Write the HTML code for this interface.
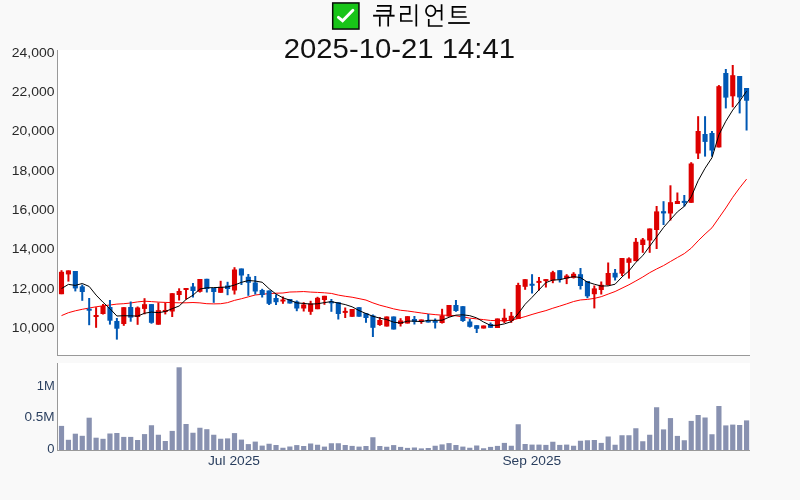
<!DOCTYPE html>
<html><head><meta charset="utf-8"><style>
html,body{margin:0;padding:0;background:#f9f9f9;}
svg{display:block;will-change:transform;font-family:"Liberation Sans",sans-serif;}
.yt{fill:#282828;}.tt{fill:#111;}
.vt{fill:#2a3f5f;}
.xt{fill:#2a3f5f;}
</style></head><body>
<svg width="800" height="500" viewBox="0 0 800 500">
<rect x="0" y="0" width="800" height="500" fill="#f9f9f9"/>
<rect x="58" y="50" width="692" height="305" fill="#fff"/>
<rect x="58" y="363" width="692" height="87" fill="#fff"/>
<defs><clipPath id="cp"><rect x="58" y="50" width="692" height="305"/></clipPath></defs>
<g clip-path="url(#cp)">
<path d="M61.50,315.60 L68.42,312.70 L75.34,310.80 L82.26,309.30 L89.18,308.00 L96.10,306.80 L103.02,305.80 L109.94,305.00 L116.86,304.10 L123.78,303.70 L130.70,303.00 L137.62,301.90 L144.54,301.20 L151.46,301.60 L158.38,302.10 L165.30,302.40 L172.22,302.60 L179.14,302.80 L186.06,302.80 L192.98,302.52 L199.90,302.88 L206.82,303.71 L213.74,303.89 L220.66,303.73 L227.58,302.64 L234.50,300.37 L241.42,298.74 L248.34,296.85 L255.26,294.99 L262.18,294.28 L269.10,293.59 L276.02,293.22 L282.94,292.99 L289.86,292.02 L296.78,291.84 L303.70,291.56 L310.62,292.08 L317.54,292.42 L324.46,292.81 L331.38,293.43 L338.30,295.08 L345.22,296.27 L352.14,297.22 L359.06,298.62 L365.98,300.07 L372.90,302.88 L379.82,305.21 L386.74,306.99 L393.66,308.89 L400.58,310.27 L407.50,310.99 L414.42,311.97 L421.34,312.97 L428.26,313.92 L435.18,314.63 L442.10,315.18 L449.02,315.25 L455.94,315.81 L462.86,316.98 L469.78,318.15 L476.70,318.89 L483.62,319.62 L490.54,320.46 L497.46,320.65 L504.38,320.74 L511.30,320.24 L518.22,318.49 L525.14,316.62 L532.06,314.44 L538.98,312.45 L545.90,310.60 L552.82,308.22 L559.74,306.12 L566.66,303.88 L573.58,301.53 L580.50,299.95 L587.42,299.42 L594.34,298.39 L601.26,296.68 L608.18,294.09 L615.10,291.52 L622.02,288.15 L628.94,284.78 L635.86,280.94 L642.78,277.03 L649.70,272.66 L656.62,268.98 L663.54,265.59 L670.46,261.51 L677.38,257.51 L684.30,253.60 L691.22,248.17 L698.14,240.84 L705.06,234.06 L711.98,227.79 L718.90,217.90 L725.82,207.97 L732.74,197.31 L739.66,187.84 L746.58,179.12" fill="none" stroke="#ff0000" stroke-width="1"/>
<rect x="60.50" y="270.20" width="2.0" height="24.00" fill="#dd0000"/><rect x="58.95" y="271.80" width="5.1" height="22.40" fill="#dd0000"/><rect x="67.42" y="270.40" width="2.0" height="11.20" fill="#dd0000"/><rect x="65.87" y="270.40" width="5.1" height="4.00" fill="#dd0000"/><rect x="74.34" y="271.00" width="2.0" height="20.40" fill="#0058b4"/><rect x="72.79" y="271.00" width="5.1" height="17.40" fill="#0058b4"/><rect x="81.26" y="284.60" width="2.0" height="16.20" fill="#0058b4"/><rect x="79.71" y="286.40" width="5.1" height="5.60" fill="#0058b4"/><rect x="88.18" y="298.00" width="2.0" height="27.20" fill="#0058b4"/><rect x="86.63" y="308.70" width="5.1" height="2.00" fill="#0058b4"/><rect x="95.10" y="307.20" width="2.0" height="20.60" fill="#dd0000"/><rect x="93.55" y="315.00" width="5.1" height="2.00" fill="#dd0000"/><rect x="102.02" y="304.00" width="2.0" height="10.50" fill="#dd0000"/><rect x="100.47" y="306.00" width="5.1" height="8.00" fill="#dd0000"/><rect x="108.94" y="300.00" width="2.0" height="24.60" fill="#0058b4"/><rect x="107.39" y="307.00" width="5.1" height="13.70" fill="#0058b4"/><rect x="115.86" y="318.00" width="2.0" height="21.60" fill="#0058b4"/><rect x="114.31" y="321.00" width="5.1" height="7.70" fill="#0058b4"/><rect x="122.78" y="307.20" width="2.0" height="18.60" fill="#dd0000"/><rect x="121.23" y="307.20" width="5.1" height="16.80" fill="#dd0000"/><rect x="129.70" y="301.50" width="2.0" height="20.20" fill="#0058b4"/><rect x="128.15" y="307.00" width="5.1" height="10.60" fill="#0058b4"/><rect x="136.62" y="306.50" width="2.0" height="18.30" fill="#dd0000"/><rect x="135.07" y="307.50" width="5.1" height="9.50" fill="#dd0000"/><rect x="143.54" y="298.20" width="2.0" height="16.10" fill="#dd0000"/><rect x="141.99" y="304.20" width="5.1" height="4.70" fill="#dd0000"/><rect x="150.46" y="304.10" width="2.0" height="19.60" fill="#0058b4"/><rect x="148.91" y="304.10" width="5.1" height="18.70" fill="#0058b4"/><rect x="157.38" y="302.50" width="2.0" height="22.20" fill="#dd0000"/><rect x="155.83" y="310.20" width="5.1" height="14.50" fill="#dd0000"/><rect x="164.30" y="302.60" width="2.0" height="11.80" fill="#dd0000"/><rect x="162.75" y="309.95" width="5.1" height="2.00" fill="#dd0000"/><rect x="171.22" y="293.20" width="2.0" height="23.80" fill="#dd0000"/><rect x="169.67" y="293.20" width="5.1" height="18.30" fill="#dd0000"/><rect x="178.14" y="288.30" width="2.0" height="12.20" fill="#dd0000"/><rect x="176.59" y="291.00" width="5.1" height="4.00" fill="#dd0000"/><rect x="185.06" y="288.00" width="2.0" height="11.50" fill="#dd0000"/><rect x="183.51" y="288.00" width="5.1" height="2.00" fill="#dd0000"/><rect x="191.98" y="283.00" width="2.0" height="14.50" fill="#0058b4"/><rect x="190.43" y="286.50" width="5.1" height="4.50" fill="#0058b4"/><rect x="198.90" y="279.00" width="2.0" height="13.50" fill="#dd0000"/><rect x="197.35" y="279.00" width="5.1" height="12.80" fill="#dd0000"/><rect x="205.82" y="278.80" width="2.0" height="13.70" fill="#0058b4"/><rect x="204.27" y="278.80" width="5.1" height="10.20" fill="#0058b4"/><rect x="212.74" y="288.00" width="2.0" height="14.80" fill="#0058b4"/><rect x="211.19" y="288.00" width="5.1" height="4.00" fill="#0058b4"/><rect x="219.66" y="280.80" width="2.0" height="12.00" fill="#dd0000"/><rect x="218.11" y="286.80" width="5.1" height="6.00" fill="#dd0000"/><rect x="226.58" y="281.80" width="2.0" height="13.40" fill="#0058b4"/><rect x="225.03" y="285.50" width="5.1" height="3.50" fill="#0058b4"/><rect x="233.50" y="267.20" width="2.0" height="27.30" fill="#dd0000"/><rect x="231.95" y="269.50" width="5.1" height="21.00" fill="#dd0000"/><rect x="240.42" y="268.50" width="2.0" height="16.50" fill="#0058b4"/><rect x="238.87" y="268.50" width="5.1" height="7.00" fill="#0058b4"/><rect x="247.34" y="274.00" width="2.0" height="21.80" fill="#0058b4"/><rect x="245.79" y="276.80" width="5.1" height="6.00" fill="#0058b4"/><rect x="254.26" y="276.00" width="2.0" height="18.50" fill="#0058b4"/><rect x="252.71" y="282.50" width="5.1" height="9.00" fill="#0058b4"/><rect x="261.18" y="288.80" width="2.0" height="8.70" fill="#0058b4"/><rect x="259.63" y="290.00" width="5.1" height="5.00" fill="#0058b4"/><rect x="268.10" y="290.50" width="2.0" height="14.50" fill="#0058b4"/><rect x="266.55" y="290.50" width="5.1" height="13.30" fill="#0058b4"/><rect x="275.02" y="294.50" width="2.0" height="10.50" fill="#0058b4"/><rect x="273.47" y="298.00" width="5.1" height="4.20" fill="#0058b4"/><rect x="281.94" y="296.50" width="2.0" height="7.30" fill="#dd0000"/><rect x="280.39" y="299.50" width="5.1" height="2.00" fill="#dd0000"/><rect x="288.86" y="299.00" width="2.0" height="4.50" fill="#0058b4"/><rect x="287.31" y="299.00" width="5.1" height="4.50" fill="#0058b4"/><rect x="295.78" y="300.50" width="2.0" height="10.70" fill="#0058b4"/><rect x="294.23" y="301.50" width="5.1" height="7.00" fill="#0058b4"/><rect x="302.70" y="302.20" width="2.0" height="9.30" fill="#dd0000"/><rect x="301.15" y="304.50" width="5.1" height="4.00" fill="#dd0000"/><rect x="309.62" y="300.80" width="2.0" height="14.00" fill="#dd0000"/><rect x="308.07" y="303.50" width="5.1" height="8.30" fill="#dd0000"/><rect x="316.54" y="296.80" width="2.0" height="12.40" fill="#dd0000"/><rect x="314.99" y="297.80" width="5.1" height="11.40" fill="#dd0000"/><rect x="323.46" y="295.80" width="2.0" height="9.00" fill="#dd0000"/><rect x="321.91" y="295.80" width="5.1" height="4.20" fill="#dd0000"/><rect x="330.38" y="299.00" width="2.0" height="12.80" fill="#0058b4"/><rect x="328.83" y="301.35" width="5.1" height="2.00" fill="#0058b4"/><rect x="337.30" y="302.20" width="2.0" height="17.30" fill="#0058b4"/><rect x="335.75" y="302.20" width="5.1" height="11.80" fill="#0058b4"/><rect x="344.22" y="307.50" width="2.0" height="10.50" fill="#dd0000"/><rect x="342.67" y="310.90" width="5.1" height="2.00" fill="#dd0000"/><rect x="351.14" y="309.00" width="2.0" height="7.80" fill="#dd0000"/><rect x="349.59" y="309.00" width="5.1" height="7.80" fill="#dd0000"/><rect x="358.06" y="307.20" width="2.0" height="9.50" fill="#0058b4"/><rect x="356.51" y="307.20" width="5.1" height="9.50" fill="#0058b4"/><rect x="364.98" y="313.20" width="2.0" height="9.60" fill="#0058b4"/><rect x="363.43" y="313.20" width="5.1" height="4.80" fill="#0058b4"/><rect x="371.90" y="314.50" width="2.0" height="22.50" fill="#0058b4"/><rect x="370.35" y="315.50" width="5.1" height="12.30" fill="#0058b4"/><rect x="378.82" y="317.00" width="2.0" height="8.80" fill="#dd0000"/><rect x="377.27" y="320.00" width="5.1" height="5.00" fill="#dd0000"/><rect x="385.74" y="316.50" width="2.0" height="10.00" fill="#dd0000"/><rect x="384.19" y="316.50" width="5.1" height="10.00" fill="#dd0000"/><rect x="392.66" y="316.50" width="2.0" height="13.00" fill="#0058b4"/><rect x="391.11" y="316.50" width="5.1" height="13.00" fill="#0058b4"/><rect x="399.58" y="318.20" width="2.0" height="8.30" fill="#dd0000"/><rect x="398.03" y="320.50" width="5.1" height="3.50" fill="#dd0000"/><rect x="406.50" y="316.20" width="2.0" height="7.30" fill="#dd0000"/><rect x="404.95" y="316.20" width="5.1" height="7.30" fill="#dd0000"/><rect x="413.42" y="316.00" width="2.0" height="8.50" fill="#0058b4"/><rect x="411.87" y="319.00" width="5.1" height="2.80" fill="#0058b4"/><rect x="420.34" y="319.50" width="2.0" height="4.30" fill="#dd0000"/><rect x="418.79" y="319.50" width="5.1" height="2.30" fill="#dd0000"/><rect x="427.26" y="314.00" width="2.0" height="8.50" fill="#0058b4"/><rect x="425.71" y="320.50" width="5.1" height="2.00" fill="#0058b4"/><rect x="434.18" y="318.50" width="2.0" height="10.00" fill="#0058b4"/><rect x="432.63" y="320.75" width="5.1" height="2.00" fill="#0058b4"/><rect x="441.10" y="308.80" width="2.0" height="14.70" fill="#dd0000"/><rect x="439.55" y="315.50" width="5.1" height="7.50" fill="#dd0000"/><rect x="448.02" y="305.00" width="2.0" height="11.50" fill="#dd0000"/><rect x="446.47" y="305.00" width="5.1" height="11.50" fill="#dd0000"/><rect x="454.94" y="300.00" width="2.0" height="11.80" fill="#0058b4"/><rect x="453.39" y="305.00" width="5.1" height="6.00" fill="#0058b4"/><rect x="461.86" y="306.20" width="2.0" height="15.60" fill="#0058b4"/><rect x="460.31" y="306.20" width="5.1" height="14.80" fill="#0058b4"/><rect x="468.78" y="319.00" width="2.0" height="8.50" fill="#0058b4"/><rect x="467.23" y="321.50" width="5.1" height="5.30" fill="#0058b4"/><rect x="475.70" y="325.20" width="2.0" height="7.80" fill="#0058b4"/><rect x="474.15" y="325.20" width="5.1" height="3.60" fill="#0058b4"/><rect x="482.62" y="325.50" width="2.0" height="3.00" fill="#dd0000"/><rect x="481.07" y="325.50" width="5.1" height="3.00" fill="#dd0000"/><rect x="489.54" y="322.50" width="2.0" height="5.30" fill="#0058b4"/><rect x="487.99" y="324.00" width="5.1" height="3.80" fill="#0058b4"/><rect x="496.46" y="318.50" width="2.0" height="9.50" fill="#dd0000"/><rect x="494.91" y="318.50" width="5.1" height="9.50" fill="#dd0000"/><rect x="503.38" y="308.80" width="2.0" height="14.20" fill="#dd0000"/><rect x="501.83" y="317.80" width="5.1" height="3.70" fill="#dd0000"/><rect x="510.30" y="312.00" width="2.0" height="10.80" fill="#dd0000"/><rect x="508.75" y="315.80" width="5.1" height="5.20" fill="#dd0000"/><rect x="517.22" y="282.80" width="2.0" height="36.20" fill="#dd0000"/><rect x="515.67" y="285.00" width="5.1" height="34.00" fill="#dd0000"/><rect x="524.14" y="279.20" width="2.0" height="10.60" fill="#dd0000"/><rect x="522.59" y="279.20" width="5.1" height="7.60" fill="#dd0000"/><rect x="531.06" y="274.20" width="2.0" height="19.30" fill="#0058b4"/><rect x="529.51" y="283.75" width="5.1" height="2.00" fill="#0058b4"/><rect x="537.98" y="277.00" width="2.0" height="13.50" fill="#dd0000"/><rect x="536.43" y="280.90" width="5.1" height="2.00" fill="#dd0000"/><rect x="544.90" y="279.20" width="2.0" height="8.30" fill="#dd0000"/><rect x="543.35" y="279.10" width="5.1" height="2.00" fill="#dd0000"/><rect x="551.82" y="270.80" width="2.0" height="12.40" fill="#dd0000"/><rect x="550.27" y="272.20" width="5.1" height="8.30" fill="#dd0000"/><rect x="558.74" y="270.20" width="2.0" height="12.30" fill="#0058b4"/><rect x="557.19" y="270.20" width="5.1" height="9.30" fill="#0058b4"/><rect x="565.66" y="274.20" width="2.0" height="9.90" fill="#dd0000"/><rect x="564.11" y="275.60" width="5.1" height="2.90" fill="#dd0000"/><rect x="572.58" y="272.20" width="2.0" height="6.30" fill="#dd0000"/><rect x="571.03" y="273.80" width="5.1" height="4.00" fill="#dd0000"/><rect x="579.50" y="268.00" width="2.0" height="21.50" fill="#0058b4"/><rect x="577.95" y="274.20" width="5.1" height="11.80" fill="#0058b4"/><rect x="586.42" y="281.00" width="2.0" height="17.20" fill="#0058b4"/><rect x="584.87" y="281.00" width="5.1" height="15.30" fill="#0058b4"/><rect x="593.34" y="285.50" width="2.0" height="22.90" fill="#dd0000"/><rect x="591.79" y="288.40" width="5.1" height="5.80" fill="#dd0000"/><rect x="600.26" y="281.50" width="2.0" height="13.00" fill="#dd0000"/><rect x="598.71" y="284.80" width="5.1" height="5.20" fill="#dd0000"/><rect x="607.18" y="262.50" width="2.0" height="23.00" fill="#dd0000"/><rect x="605.63" y="273.00" width="5.1" height="12.00" fill="#dd0000"/><rect x="614.10" y="269.00" width="2.0" height="11.50" fill="#0058b4"/><rect x="612.55" y="272.80" width="5.1" height="4.70" fill="#0058b4"/><rect x="621.02" y="258.00" width="2.0" height="18.00" fill="#dd0000"/><rect x="619.47" y="258.00" width="5.1" height="15.60" fill="#dd0000"/><rect x="627.94" y="257.40" width="2.0" height="21.20" fill="#dd0000"/><rect x="626.39" y="258.40" width="5.1" height="4.40" fill="#dd0000"/><rect x="634.86" y="238.00" width="2.0" height="23.20" fill="#dd0000"/><rect x="633.31" y="241.80" width="5.1" height="19.30" fill="#dd0000"/><rect x="641.78" y="238.00" width="2.0" height="14.80" fill="#dd0000"/><rect x="640.23" y="239.50" width="5.1" height="5.50" fill="#dd0000"/><rect x="648.70" y="228.50" width="2.0" height="24.30" fill="#dd0000"/><rect x="647.15" y="228.50" width="5.1" height="12.00" fill="#dd0000"/><rect x="655.62" y="206.00" width="2.0" height="43.00" fill="#dd0000"/><rect x="654.07" y="211.40" width="5.1" height="18.60" fill="#dd0000"/><rect x="662.54" y="201.20" width="2.0" height="23.80" fill="#0058b4"/><rect x="660.99" y="211.20" width="5.1" height="2.20" fill="#0058b4"/><rect x="669.46" y="185.30" width="2.0" height="35.20" fill="#dd0000"/><rect x="667.91" y="202.20" width="5.1" height="11.30" fill="#dd0000"/><rect x="676.38" y="192.50" width="2.0" height="11.50" fill="#dd0000"/><rect x="674.83" y="201.00" width="5.1" height="3.00" fill="#dd0000"/><rect x="683.30" y="195.00" width="2.0" height="11.50" fill="#0058b4"/><rect x="681.75" y="200.90" width="5.1" height="2.00" fill="#0058b4"/><rect x="690.22" y="162.20" width="2.0" height="40.60" fill="#dd0000"/><rect x="688.67" y="163.50" width="5.1" height="39.30" fill="#dd0000"/><rect x="697.14" y="116.20" width="2.0" height="42.80" fill="#dd0000"/><rect x="695.59" y="131.00" width="5.1" height="22.50" fill="#dd0000"/><rect x="704.06" y="116.20" width="2.0" height="40.40" fill="#0058b4"/><rect x="702.51" y="134.00" width="5.1" height="7.90" fill="#0058b4"/><rect x="710.98" y="131.00" width="2.0" height="25.60" fill="#0058b4"/><rect x="709.43" y="133.00" width="5.1" height="17.50" fill="#0058b4"/><rect x="717.90" y="85.10" width="2.0" height="62.30" fill="#dd0000"/><rect x="716.35" y="86.20" width="5.1" height="61.20" fill="#dd0000"/><rect x="724.82" y="69.00" width="2.0" height="39.40" fill="#0058b4"/><rect x="723.27" y="73.00" width="5.1" height="24.60" fill="#0058b4"/><rect x="731.74" y="65.00" width="2.0" height="42.30" fill="#dd0000"/><rect x="730.19" y="75.20" width="5.1" height="21.10" fill="#dd0000"/><rect x="738.66" y="76.00" width="2.0" height="37.40" fill="#0058b4"/><rect x="737.11" y="76.00" width="5.1" height="21.40" fill="#0058b4"/><rect x="745.58" y="88.00" width="2.0" height="42.50" fill="#0058b4"/><rect x="744.03" y="88.00" width="5.1" height="12.70" fill="#0058b4"/>
<path d="M61.50,288.60 L68.42,284.40 L75.34,285.40 L82.26,283.50 L89.18,286.46 L96.10,295.10 L103.02,302.22 L109.94,308.68 L116.86,316.02 L123.78,315.72 L130.70,315.84 L137.62,316.14 L144.54,313.24 L151.46,312.06 L158.38,312.66 L165.30,311.53 L172.22,308.67 L179.14,306.03 L186.06,299.47 L192.98,295.23 L199.90,289.04 L206.82,287.80 L213.74,287.60 L220.66,287.36 L227.58,286.96 L234.50,285.06 L241.42,282.36 L248.34,280.52 L255.26,281.06 L262.18,282.26 L269.10,288.72 L276.02,294.06 L282.94,297.80 L289.86,300.20 L296.78,302.90 L303.70,303.44 L310.62,304.10 L317.54,303.76 L324.46,302.62 L331.38,301.59 L338.30,303.09 L345.22,304.57 L352.14,306.81 L359.06,310.59 L365.98,313.52 L372.90,316.28 L379.82,318.10 L386.74,319.60 L393.66,322.16 L400.58,323.06 L407.50,321.14 L414.42,321.10 L421.34,321.70 L428.26,320.30 L435.18,320.35 L442.10,320.21 L449.02,317.25 L455.94,315.15 L462.86,314.85 L469.78,315.66 L476.70,317.92 L483.62,322.02 L490.54,325.38 L497.46,325.28 L504.38,323.88 L511.30,321.68 L518.22,313.58 L525.14,304.26 L532.06,297.31 L538.98,289.93 L545.90,282.59 L552.82,280.03 L559.74,279.69 L566.66,278.06 L573.58,276.64 L580.50,277.62 L587.42,282.04 L594.34,284.22 L601.26,286.06 L608.18,285.90 L615.10,284.20 L622.02,276.94 L628.94,270.94 L635.86,262.34 L642.78,255.64 L649.70,246.24 L656.62,236.92 L663.54,227.50 L670.46,219.58 L677.38,211.88 L684.30,206.36 L691.22,196.78 L698.14,180.72 L705.06,168.26 L711.98,157.76 L718.90,134.82 L725.82,121.24 L732.74,110.08 L739.66,101.18 L746.58,91.22" fill="none" stroke="#000" stroke-width="1"/>
</g>
<rect x="58.90" y="425.90" width="5.2" height="24.10" fill="#8891b0"/><rect x="65.82" y="439.80" width="5.2" height="10.20" fill="#8891b0"/><rect x="72.74" y="433.70" width="5.2" height="16.30" fill="#8891b0"/><rect x="79.66" y="435.80" width="5.2" height="14.20" fill="#8891b0"/><rect x="86.58" y="417.70" width="5.2" height="32.30" fill="#8891b0"/><rect x="93.50" y="437.70" width="5.2" height="12.30" fill="#8891b0"/><rect x="100.42" y="438.80" width="5.2" height="11.20" fill="#8891b0"/><rect x="107.34" y="433.50" width="5.2" height="16.50" fill="#8891b0"/><rect x="114.26" y="433.00" width="5.2" height="17.00" fill="#8891b0"/><rect x="121.18" y="436.90" width="5.2" height="13.10" fill="#8891b0"/><rect x="128.10" y="436.90" width="5.2" height="13.10" fill="#8891b0"/><rect x="135.02" y="440.00" width="5.2" height="10.00" fill="#8891b0"/><rect x="141.94" y="434.10" width="5.2" height="15.90" fill="#8891b0"/><rect x="148.86" y="425.25" width="5.2" height="24.75" fill="#8891b0"/><rect x="155.78" y="434.75" width="5.2" height="15.25" fill="#8891b0"/><rect x="162.70" y="441.00" width="5.2" height="9.00" fill="#8891b0"/><rect x="169.62" y="430.90" width="5.2" height="19.10" fill="#8891b0"/><rect x="176.54" y="367.30" width="5.2" height="82.70" fill="#8891b0"/><rect x="183.46" y="424.00" width="5.2" height="26.00" fill="#8891b0"/><rect x="190.38" y="432.75" width="5.2" height="17.25" fill="#8891b0"/><rect x="197.30" y="427.75" width="5.2" height="22.25" fill="#8891b0"/><rect x="204.22" y="429.20" width="5.2" height="20.80" fill="#8891b0"/><rect x="211.14" y="434.75" width="5.2" height="15.25" fill="#8891b0"/><rect x="218.06" y="438.75" width="5.2" height="11.25" fill="#8891b0"/><rect x="224.98" y="438.40" width="5.2" height="11.60" fill="#8891b0"/><rect x="231.90" y="433.10" width="5.2" height="16.90" fill="#8891b0"/><rect x="238.82" y="439.60" width="5.2" height="10.40" fill="#8891b0"/><rect x="245.74" y="444.10" width="5.2" height="5.90" fill="#8891b0"/><rect x="252.66" y="441.60" width="5.2" height="8.40" fill="#8891b0"/><rect x="259.58" y="445.60" width="5.2" height="4.40" fill="#8891b0"/><rect x="266.50" y="443.75" width="5.2" height="6.25" fill="#8891b0"/><rect x="273.42" y="445.00" width="5.2" height="5.00" fill="#8891b0"/><rect x="280.34" y="447.75" width="5.2" height="2.25" fill="#8891b0"/><rect x="287.26" y="446.50" width="5.2" height="3.50" fill="#8891b0"/><rect x="294.18" y="445.10" width="5.2" height="4.90" fill="#8891b0"/><rect x="301.10" y="446.00" width="5.2" height="4.00" fill="#8891b0"/><rect x="308.02" y="443.50" width="5.2" height="6.50" fill="#8891b0"/><rect x="314.94" y="444.75" width="5.2" height="5.25" fill="#8891b0"/><rect x="321.86" y="446.60" width="5.2" height="3.40" fill="#8891b0"/><rect x="328.78" y="443.25" width="5.2" height="6.75" fill="#8891b0"/><rect x="335.70" y="443.25" width="5.2" height="6.75" fill="#8891b0"/><rect x="342.62" y="445.00" width="5.2" height="5.00" fill="#8891b0"/><rect x="349.54" y="445.90" width="5.2" height="4.10" fill="#8891b0"/><rect x="356.46" y="446.60" width="5.2" height="3.40" fill="#8891b0"/><rect x="363.38" y="446.00" width="5.2" height="4.00" fill="#8891b0"/><rect x="370.30" y="437.25" width="5.2" height="12.75" fill="#8891b0"/><rect x="377.22" y="446.00" width="5.2" height="4.00" fill="#8891b0"/><rect x="384.14" y="446.75" width="5.2" height="3.25" fill="#8891b0"/><rect x="391.06" y="445.10" width="5.2" height="4.90" fill="#8891b0"/><rect x="397.98" y="446.90" width="5.2" height="3.10" fill="#8891b0"/><rect x="404.90" y="447.90" width="5.2" height="2.10" fill="#8891b0"/><rect x="411.82" y="447.50" width="5.2" height="2.50" fill="#8891b0"/><rect x="418.74" y="448.40" width="5.2" height="1.60" fill="#8891b0"/><rect x="425.66" y="448.00" width="5.2" height="2.00" fill="#8891b0"/><rect x="432.58" y="445.75" width="5.2" height="4.25" fill="#8891b0"/><rect x="439.50" y="444.40" width="5.2" height="5.60" fill="#8891b0"/><rect x="446.42" y="443.10" width="5.2" height="6.90" fill="#8891b0"/><rect x="453.34" y="445.00" width="5.2" height="5.00" fill="#8891b0"/><rect x="460.26" y="446.60" width="5.2" height="3.40" fill="#8891b0"/><rect x="467.18" y="447.75" width="5.2" height="2.25" fill="#8891b0"/><rect x="474.10" y="445.50" width="5.2" height="4.50" fill="#8891b0"/><rect x="481.02" y="448.25" width="5.2" height="1.75" fill="#8891b0"/><rect x="487.94" y="446.90" width="5.2" height="3.10" fill="#8891b0"/><rect x="494.86" y="445.90" width="5.2" height="4.10" fill="#8891b0"/><rect x="501.78" y="442.90" width="5.2" height="7.10" fill="#8891b0"/><rect x="508.70" y="445.75" width="5.2" height="4.25" fill="#8891b0"/><rect x="515.62" y="424.25" width="5.2" height="25.75" fill="#8891b0"/><rect x="522.54" y="444.00" width="5.2" height="6.00" fill="#8891b0"/><rect x="529.46" y="444.60" width="5.2" height="5.40" fill="#8891b0"/><rect x="536.38" y="444.60" width="5.2" height="5.40" fill="#8891b0"/><rect x="543.30" y="444.90" width="5.2" height="5.10" fill="#8891b0"/><rect x="550.22" y="441.75" width="5.2" height="8.25" fill="#8891b0"/><rect x="557.14" y="444.90" width="5.2" height="5.10" fill="#8891b0"/><rect x="564.06" y="444.60" width="5.2" height="5.40" fill="#8891b0"/><rect x="570.98" y="445.75" width="5.2" height="4.25" fill="#8891b0"/><rect x="577.90" y="440.75" width="5.2" height="9.25" fill="#8891b0"/><rect x="584.82" y="440.25" width="5.2" height="9.75" fill="#8891b0"/><rect x="591.74" y="440.00" width="5.2" height="10.00" fill="#8891b0"/><rect x="598.66" y="442.90" width="5.2" height="7.10" fill="#8891b0"/><rect x="605.58" y="436.50" width="5.2" height="13.50" fill="#8891b0"/><rect x="612.50" y="444.75" width="5.2" height="5.25" fill="#8891b0"/><rect x="619.42" y="435.25" width="5.2" height="14.75" fill="#8891b0"/><rect x="626.34" y="435.25" width="5.2" height="14.75" fill="#8891b0"/><rect x="633.26" y="428.25" width="5.2" height="21.75" fill="#8891b0"/><rect x="640.18" y="441.25" width="5.2" height="8.75" fill="#8891b0"/><rect x="647.10" y="434.75" width="5.2" height="15.25" fill="#8891b0"/><rect x="654.02" y="407.25" width="5.2" height="42.75" fill="#8891b0"/><rect x="660.94" y="429.40" width="5.2" height="20.60" fill="#8891b0"/><rect x="667.86" y="418.10" width="5.2" height="31.90" fill="#8891b0"/><rect x="674.78" y="435.90" width="5.2" height="14.10" fill="#8891b0"/><rect x="681.70" y="440.25" width="5.2" height="9.75" fill="#8891b0"/><rect x="688.62" y="420.90" width="5.2" height="29.10" fill="#8891b0"/><rect x="695.54" y="415.00" width="5.2" height="35.00" fill="#8891b0"/><rect x="702.46" y="417.50" width="5.2" height="32.50" fill="#8891b0"/><rect x="709.38" y="434.25" width="5.2" height="15.75" fill="#8891b0"/><rect x="716.30" y="406.00" width="5.2" height="44.00" fill="#8891b0"/><rect x="723.22" y="425.40" width="5.2" height="24.60" fill="#8891b0"/><rect x="730.14" y="424.60" width="5.2" height="25.40" fill="#8891b0"/><rect x="737.06" y="425.00" width="5.2" height="25.00" fill="#8891b0"/><rect x="743.98" y="420.40" width="5.2" height="29.60" fill="#8891b0"/>
<rect x="57" y="50" width="1" height="306" fill="#999"/>
<rect x="57" y="355" width="693" height="1" fill="#999"/>
<rect x="57" y="363" width="1" height="88" fill="#999"/>
<rect x="57" y="450" width="693" height="1" fill="#999"/>
<text x="11.80" y="331.80" class="yt" font-size="12" textLength="42.60" lengthAdjust="spacingAndGlyphs">10,000</text><text x="11.80" y="292.51" class="yt" font-size="12" textLength="42.60" lengthAdjust="spacingAndGlyphs">12,000</text><text x="11.80" y="253.23" class="yt" font-size="12" textLength="42.60" lengthAdjust="spacingAndGlyphs">14,000</text><text x="11.80" y="213.94" class="yt" font-size="12" textLength="42.60" lengthAdjust="spacingAndGlyphs">16,000</text><text x="11.80" y="174.66" class="yt" font-size="12" textLength="42.60" lengthAdjust="spacingAndGlyphs">18,000</text><text x="11.80" y="135.37" class="yt" font-size="12" textLength="42.60" lengthAdjust="spacingAndGlyphs">20,000</text><text x="11.80" y="96.08" class="yt" font-size="12" textLength="42.60" lengthAdjust="spacingAndGlyphs">22,000</text><text x="11.80" y="56.80" class="yt" font-size="12" textLength="42.60" lengthAdjust="spacingAndGlyphs">24,000</text><text x="36.77" y="389.90" class="vt" font-size="12" textLength="17.98" lengthAdjust="spacingAndGlyphs">1M</text><text x="24.46" y="421.40" class="vt" font-size="12" textLength="30.15" lengthAdjust="spacingAndGlyphs">0.5M</text><text x="47.38" y="453.30" class="vt" font-size="12" textLength="7.25" lengthAdjust="spacingAndGlyphs">0</text><text x="207.99" y="464.80" class="xt" font-size="12" textLength="52.05" lengthAdjust="spacingAndGlyphs">Jul 2025</text><text x="502.45" y="464.90" class="xt" font-size="12" textLength="58.82" lengthAdjust="spacingAndGlyphs">Sep 2025</text><text x="283.73" y="57.80" class="tt" font-size="27.5" textLength="231.30" lengthAdjust="spacingAndGlyphs">2025-10-21 14:41</text>

<rect x="332.7" y="2.95" width="26.25" height="26.1" fill="#18c418" stroke="#0a0a0a" stroke-width="1.5"/>
<path d="M338.4 17.3 L342.6 20.7 L352.9 10.3" fill="none" stroke="#fff" stroke-width="2.9" stroke-linecap="round" stroke-linejoin="miter"/>
<g fill="none" stroke="#000" stroke-width="1.7" stroke-linejoin="miter">
<path d="M377,5.9 H390.8 L390.4,15 M376.2,10.85 H390.4 M379.8,16.5 V26.6 M388.2,16.5 V26.6"/>
<path d="M373.1,15.7 H394.6" stroke-width="1.9"/>
<path d="M400,6.9 H409.7 V13.9 H400.9 V21 H412.6 M416.3,4.2 V26.6"/>
<ellipse cx="430.77" cy="10.95" rx="4.8" ry="5.25"/>
<path d="M436.2,10.85 H441.6 M441.6,4.2 V20.5 M428.75,19.1 V26 H442.6"/>
<path d="M466.1,6.9 H452.5 V17 H466.7 M452.5,12 H465.6"/>
<path d="M448.2,23 H469.8" stroke-width="1.8"/>
</g>
</svg>
</body></html>
